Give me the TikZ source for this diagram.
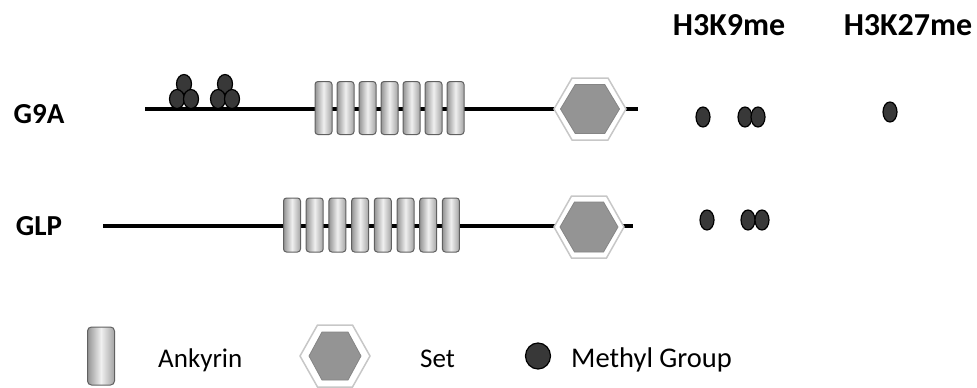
\documentclass[tikz,border=0pt]{standalone}
\usepackage{fontspec}
\setmainfont{Carlito}
\usetikzlibrary{shapes.geometric}
\newcommand\sethex[7]{% name, cx, cy, gray half-width, gray half-height, outer half-width, outer half-height
  \filldraw[fill=white, draw=black!22, line width=1.5pt]
    ({#2-#6},{#3}) -- ({#2-#6/2},{#3-#7}) -- ({#2+#6/2},{#3-#7}) -- ({#2+#6},{#3})
    -- ({#2+#6/2},{#3+#7}) -- ({#2-#6/2},{#3+#7}) -- cycle;
  \filldraw[fill=black!42, draw=black!48, line width=0.8pt]
    ({#2-#4},{#3}) -- ({#2-#4/2},{#3-#5}) -- ({#2+#4/2},{#3-#5}) -- ({#2+#4},{#3})
    -- ({#2+#4/2},{#3+#5}) -- ({#2-#4/2},{#3+#5}) -- cycle;
  \coordinate (#1) at (#2,#3);}
\begin{document}
\begin{tikzpicture}[x=1pt,y=-1pt,
  lbl/.style={font=\fontsize{29}{30}\selectfont\bfseries, inner sep=0, anchor=base},
  hdr/.style={font=\fontsize{32}{34}\selectfont\bfseries, inner sep=0, anchor=base},
  leg/.style={font=\fontsize{27}{29}\selectfont, inner sep=0, anchor=base west},
  backbone/.style={line width=4pt, black},
  ank/.style={draw=black!62, line width=1pt, rounded corners=3pt, minimum width=17pt,
    minimum height=53pt, inner sep=0, left color=black!42, right color=black!36, middle color=black!6},
  me/.style={ellipse, draw=black, line width=1.2pt, fill=black!78, inner sep=0,
    minimum width=15pt, minimum height=19pt},
  dot/.style={ellipse, draw=black, line width=1.2pt, fill=black!78, inner sep=0,
    minimum width=14pt, minimum height=20pt},
]
\useasboundingbox (0,0) rectangle (977,388);

% labels
\node[lbl] (g9a) at (39,123) {G9A};
\node[lbl] (glp) at (39,235) {GLP};
\node[hdr] (h9) at (729,35) {H3K9me};
\node[hdr] (h27) at (908,35) {H3K27me};

% G9A backbone
\coordinate (g9aS) at (145,109);
\coordinate (g9aE) at (638,109);
\draw[backbone] (g9aS) -- (g9aE);
% methyl clusters on G9A
\node[me] (c1t) at (184,84) {};
\node[me] (c1l) at (177,99) {};
\node[me] (c1r) at (191,99) {};
\node[me] (c2t) at (225,84) {};
\node[me] (c2l) at (218,99) {};
\node[me] (c2r) at (232,99) {};
% ankyrin repeats G9A
\foreach \i in {0,...,6}{
  \node[ank] (ga\i) at ({323.5+22*\i},108) {};
}
\sethex{g9ahex}{590}{109}{29.5}{24.5}{36}{31}

% GLP backbone
\coordinate (glpS) at (103,226);
\coordinate (glpE) at (633,226);
\draw[backbone] (glpS) -- (glpE);
\foreach \i in {0,...,7}{
  \node[ank, minimum height=54pt] (gl\i) at ({292+22.7*\i},225) {};
}
\sethex{glphex}{589}{227}{29}{25}{35}{31}

% methylation marks
\node[dot] (m1) at (703,117) {};
\node[dot] (m2a) at (745,117) {};
\node[dot] (m2b) at (758,117) {};
\node[dot] (m3) at (890,112) {};
\node[dot] (n1) at (707,220) {};
\node[dot] (n2a) at (748,220) {};
\node[dot] (n2b) at (762,220) {};

% legend
\node[ank, minimum width=27pt, minimum height=58pt, rounded corners=4pt] (lank) at (101,356) {};
\node[leg] (tank) at (158,367) {Ankyrin};
\sethex{lhex}{335}{356}{26}{24}{35}{31}
\node[leg] (tset) at (420,367) {Set};
\node[dot, minimum width=25pt, minimum height=26pt] (ldot) at (538,356) {};
\node[leg, font=\fontsize{28.5}{30}\selectfont] (tme) at (571,367) {Methyl Group};
\end{tikzpicture}
\end{document}
